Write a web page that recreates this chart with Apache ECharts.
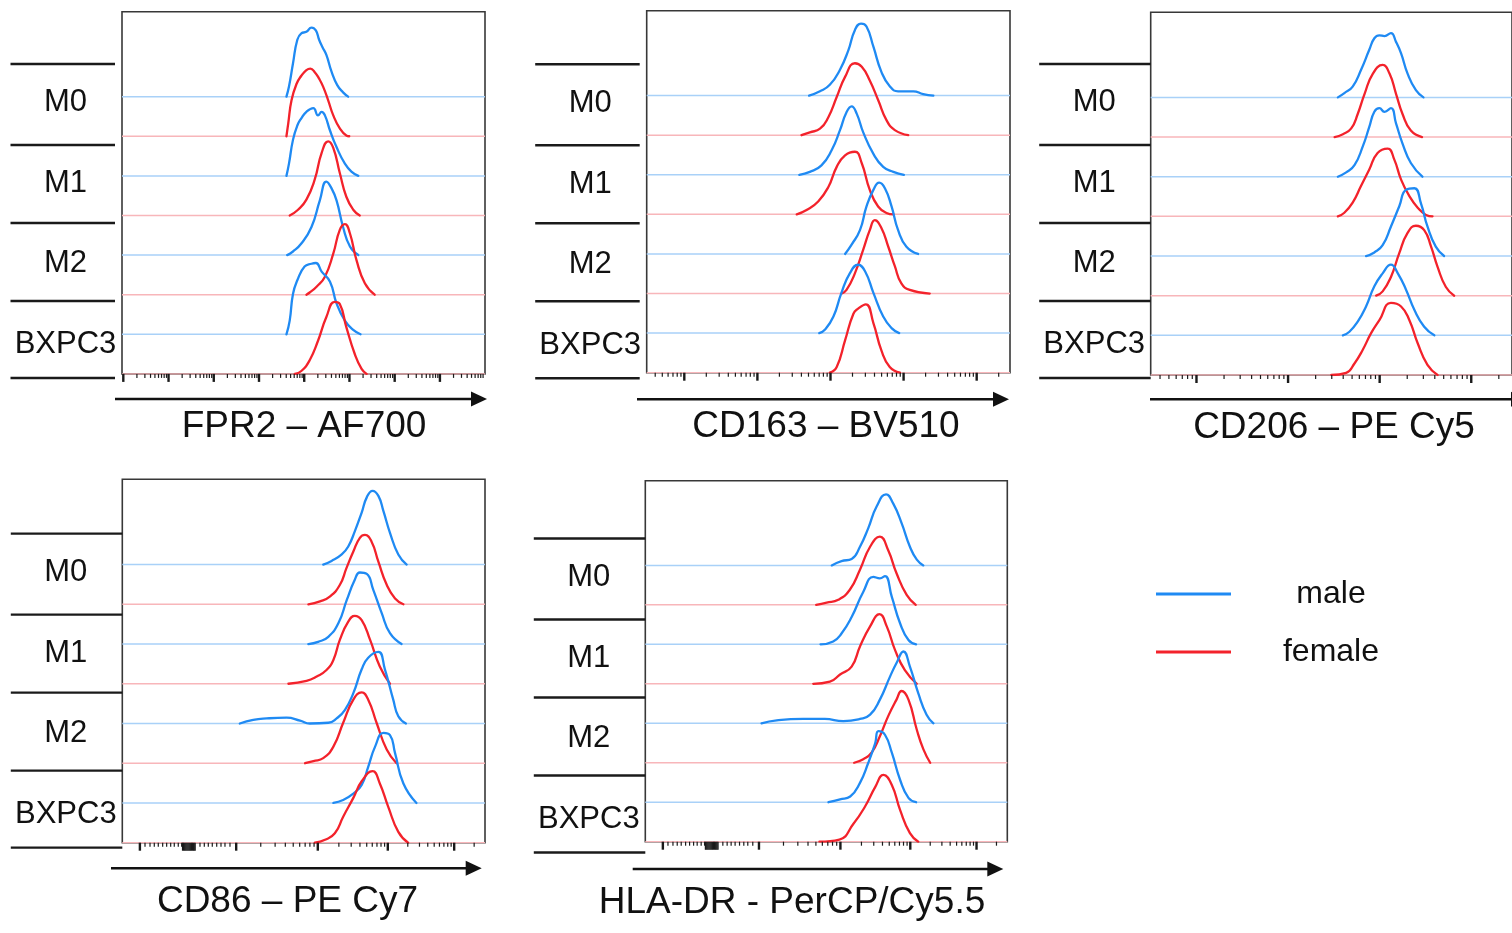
<!DOCTYPE html>
<html>
<head>
<meta charset="utf-8">
<script src="https://cdn.jsdelivr.net/npm/echarts@6/dist/echarts.min.js"></script>
<style>
  html, body { margin: 0; padding: 0; background: #ffffff; }
  #chart { width: 1512px; height: 933px; }
</style>
</head>
<body>
<div id="chart"></div>
<script>
// ---------------- data ----------------
const GROUPS = ['M0', 'M1', 'M2', 'BXPC3'];
const SEXES = ['male', 'female'];
const MARKERS = ['FPR2 – AF700', 'CD163 – BV510', 'CD206 – PE Cy5', 'CD86 – PE Cy7', 'HLA-DR - PerCP/Cy5.5'];

// each curve: [display channel (0-1000), % of mode]; order M0, M1, M2, BXPC3
const FPR2_MALE = [
  [[453,0],[460,14],[471,46],[483,79],[494,88],[508,90],[522,96],[534,92],[543,79],[552,69],[563,58],[577,35],[593,16],[609,6],[623,0]],
  [[453,0],[460,17],[471,50],[483,70],[494,80],[508,89],[527,94],[540,84],[550,89],[559,84],[573,63],[591,40],[614,17],[632,6],[651,0]],
  [[455,0],[471,5],[494,16],[522,39],[545,76],[563,102],[577,93],[591,76],[609,39],[628,12],[651,0]],
  [[453,0],[462,19],[471,56],[483,75],[503,94],[522,98],[534,99],[550,87],[573,73],[591,43],[614,19],[637,6],[657,0]]
];
const FPR2_FEMALE = [
  [[453,0],[458,18],[467,50],[481,73],[494,84],[508,92],[519,94],[531,89],[543,80],[554,69],[568,50],[582,29],[600,11],[618,1],[626,0]],
  [[462,0],[485,8],[508,22],[531,50],[550,87],[568,103],[582,94],[600,59],[618,26],[637,8],[655,0]],
  [[508,0],[517,3],[536,11],[559,25],[582,57],[600,90],[614,98],[628,85],[646,48],[669,16],[696,0]],
  [[476,0],[494,4],[517,19],[540,46],[563,79],[586,100],[600,97],[618,65],[641,28],[660,7],[674,0]]
];
const CD163_MALE = [
  [[447,0],[477,6],[504,15],[532,36],[555,63],[573,91],[590,100],[605,96],[624,68],[646,33],[669,13],[692,6],[734,6],[761,2],[789,0]],
  [[420,0],[449,4],[481,13],[509,34],[532,62],[550,87],[564,95],[578,85],[596,59],[624,29],[651,11],[679,4],[708,0]],
  [[546,0],[564,13],[587,33],[605,66],[624,89],[640,99],[656,91],[674,66],[692,33],[715,10],[747,0]],
  [[475,0],[491,5],[514,23],[536,56],[559,83],[582,95],[601,86],[624,56],[651,23],[674,7],[695,0]]
];
const CD163_FEMALE = [
  [[426,0],[449,4],[477,9],[500,25],[523,53],[546,81],[573,100],[592,95],[614,76],[637,49],[660,21],[683,7],[720,0]],
  [[413,0],[440,6],[472,18],[500,38],[523,66],[546,82],[573,87],[592,71],[614,34],[637,11],[660,2],[679,0]],
  [[536,0],[550,5],[573,28],[596,61],[614,88],[628,102],[646,91],[665,65],[683,38],[701,14],[724,5],[779,0]],
  [[504,0],[523,8],[546,45],[569,82],[582,89],[603,95],[624,69],[646,31],[669,8],[697,0]]
];
const CD206_MALE = [
  [[518,0],[536,6],[559,15],[582,38],[605,66],[619,82],[633,86],[647,85],[665,89],[679,77],[693,61],[711,33],[734,10],[755,0]],
  [[518,0],[541,6],[564,16],[587,42],[605,69],[619,90],[633,95],[647,90],[665,95],[679,74],[697,46],[720,19],[752,0]],
  [[596,0],[619,5],[642,15],[665,41],[688,69],[707,92],[730,94],[748,73],[766,41],[789,13],[812,0]],
  [[532,0],[550,5],[573,19],[596,40],[619,68],[642,86],[665,98],[684,86],[707,63],[730,35],[757,12],[785,0]]
];
const CD206_FEMALE = [
  [[509,0],[532,4],[555,12],[573,32],[592,60],[615,88],[642,100],[661,88],[679,60],[697,32],[720,9],[751,0]],
  [[518,0],[536,5],[559,19],[582,42],[605,65],[628,88],[656,94],[674,79],[693,51],[716,28],[739,12],[762,2],[780,0]],
  [[624,0],[642,6],[665,26],[688,59],[711,87],[734,97],[757,91],[776,68],[794,40],[817,12],[840,0]],
  [[500,0],[541,3],[564,16],[587,35],[610,58],[633,76],[665,100],[693,95],[716,76],[739,44],[766,14],[794,0]]
];
const CD86_MALE = [
  [[554,0],[577,5],[605,14],[623,25],[641,46],[660,72],[674,93],[690,102],[706,95],[720,74],[738,44],[761,14],[784,0]],
  [[513,0],[540,3],[568,10],[596,29],[619,61],[641,89],[655,99],[674,97],[692,75],[715,43],[738,15],[770,0]],
  [[324,0],[361,5],[398,7],[453,8],[490,4],[517,0],[568,1],[591,7],[614,19],[637,42],[660,75],[678,91],[706,99],[724,75],[747,33],[761,10],[782,0]],
  [[582,0],[609,4],[637,13],[660,25],[678,50],[697,78],[720,97],[738,94],[752,69],[775,27],[811,0]]
];
const CD86_FEMALE = [
  [[513,0],[545,4],[573,11],[600,27],[618,50],[637,73],[655,92],[669,96],[687,87],[706,59],[729,27],[752,8],[775,0]],
  [[458,0],[508,4],[536,10],[563,19],[582,33],[600,61],[623,86],[641,94],[660,88],[683,61],[710,24],[738,0]],
  [[504,0],[527,3],[554,7],[582,23],[609,56],[637,88],[660,98],[678,88],[701,56],[729,19],[756,0]],
  [[531,0],[559,4],[586,13],[609,36],[637,62],[660,85],[690,99],[710,82],[733,50],[761,15],[788,0]]
];
const HLADR_MALE = [
  [[515,0],[542,6],[570,9],[593,26],[616,52],[639,82],[665,99],[685,86],[708,59],[731,26],[750,8],[768,0]],
  [[484,0],[519,4],[542,15],[570,38],[602,73],[630,94],[648,92],[662,95],[681,66],[704,29],[727,6],[748,0]],
  [[321,0],[363,4],[436,6],[496,6],[547,3],[593,6],[621,12],[648,33],[676,65],[694,84],[713,100],[731,79],[754,42],[777,12],[796,0]],
  [[506,0],[538,4],[566,8],[593,27],[616,55],[635,82],[644,99],[662,94],[681,69],[704,31],[727,6],[748,0]]
];
const HLADR_FEMALE = [
  [[472,0],[501,3],[533,7],[565,21],[593,49],[621,81],[648,95],[671,76],[694,44],[722,14],[747,0]],
  [[464,0],[510,3],[538,13],[570,24],[593,52],[621,80],[647,97],[667,80],[690,47],[717,19],[750,0]],
  [[577,0],[602,5],[625,14],[648,37],[671,65],[694,88],[708,100],[727,88],[750,46],[768,19],[787,0]],
  [[481,0],[536,3],[575,25],[607,49],[635,76],[658,93],[681,79],[704,44],[731,12],[754,0]]
];

// axis ticks (display channel units)
const LOG_MAJORS_FPR2 = [3.6, 128.2, 252.8, 377.4, 502, 626.6, 751.2, 875.8];
const LOG_MAJORS_CD163 = [103.5, 304.7, 505.9, 707.1, 908.3];
const LOG_MAJORS_CD206 = [126.7, 380.2, 633.7, 887.2];
const DECADE_WIDTHS = [124.6, 201.2, 253.5];
const BIEX_MAJORS = [48.5, 314, 539, 732, 915];
const BIEX_LINEAR_MINORS = [62.6, 76.4, 88.2, 99.2, 111.3, 122.3, 133.4, 143.3, 154.3, 163.7, 214.2, 226.1, 237.1, 248.1, 260.3, 272.1, 283.1, 296.9];
const BIEX_ZERO_CLUSTER = [166, 168.5, 171, 173.5, 176, 178.5, 181, 183.5, 186, 188.5, 191, 193.5, 196, 198.5, 201];
const BIEX_LAST_DECADE = 183;

// ---------------- layout ----------------
const CH_MAX = 1000, ROW = 55, Y_MAX = 503;
const BOX = [ // left, top, width, height of each plot frame
  [122, 11.7, 363, 362.2],
  [646.7, 10.7, 363.3, 362],
  [1150.7, 12.3, 363, 362.7],
  [122.3, 479.3, 362.7, 363.4],
  [645.3, 480.7, 362, 361]
];
const SEP_BASE = [53, 134, 212, 290, 367];
const LABEL_BASE = [91.8, 172.8, 252.8, 333.8];
const SEP_DY = [-0.7, 0.5, -1.3, 1.3, 4.8];
const SEP_GAP = [7, 7, 0, 0, 0];
const TITLE_POS = [[304, 426.5], [826, 426.5], [1334, 428], [287.5, 901.5], [792, 903]];
const ARROW = [[115, 487, 399], [637, 1009, 399.3], [1150, 1527, 399.3], [111, 481.7, 868.3], [632.7, 1003.3, 869]];

const FONT = '"Liberation Sans", Arial, Helvetica, sans-serif';
const COL = { male: '#1F8AF3', female: '#F3222B' };
const PALE = { male: '#A9D1F8', female: '#F8B6BA' };

const PANEL_DATA = [
  [FPR2_MALE, FPR2_FEMALE],
  [CD163_MALE, CD163_FEMALE],
  [CD206_MALE, CD206_FEMALE],
  [CD86_MALE, CD86_FEMALE],
  [HLADR_MALE, HLADR_FEMALE]
];

function logTicks(majors, D) {
  const out = [];
  majors.forEach(m => out.push([m, 1]));
  const starts = [majors[0] - D].concat(majors);
  starts.forEach(m => {
    for (let k = 2; k <= 9; k++) {
      const v = m + D * Math.log10(k);
      if (v > 0 && v < CH_MAX) out.push([v, 0]);
    }
  });
  return out;
}
function biexTicks() {
  const out = [];
  BIEX_MAJORS.forEach(m => out.push([m, 1]));
  BIEX_LINEAR_MINORS.forEach(v => out.push([v, 0]));
  BIEX_ZERO_CLUSTER.forEach(v => out.push([v, 2]));
  for (let i = 1; i < BIEX_MAJORS.length; i++) {
    const a = BIEX_MAJORS[i];
    const D = i < BIEX_MAJORS.length - 1 ? BIEX_MAJORS[i + 1] - a : BIEX_LAST_DECADE;
    for (let k = 2; k <= 9; k++) {
      const v = a + D * Math.log10(k);
      if (v < CH_MAX) out.push([v, 0]);
    }
  }
  return out;
}
const PANEL_TICKS = [
  logTicks(LOG_MAJORS_FPR2, DECADE_WIDTHS[0]),
  logTicks(LOG_MAJORS_CD163, DECADE_WIDTHS[1]),
  logTicks(LOG_MAJORS_CD206, DECADE_WIDTHS[2]),
  biexTicks(),
  biexTicks()
];

const grids = [], xAxes = [], yAxes = [], series = [], graphics = [];

BOX.forEach((b, p) => {
  grids.push({ left: b[0], top: b[1], width: b[2], height: b[3], show: true,
    borderColor: '#383838', borderWidth: 1.6, backgroundColor: 'transparent', containLabel: false });
  xAxes.push({ gridIndex: p, type: 'value', min: 0, max: CH_MAX,
    axisLine: { show: false }, axisTick: { show: false }, axisLabel: { show: false }, splitLine: { show: false } });
  yAxes.push({ gridIndex: p, type: 'value', min: 0, max: Y_MAX,
    axisLine: { show: false }, axisTick: { show: false }, axisLabel: { show: false }, splitLine: { show: false } });

  // baselines first
  GROUPS.forEach((g, gi) => {
    SEXES.forEach((s, si) => {
      const k = gi * 2 + si;
      const off = (7 - k) * ROW;
      series.push({
        type: 'line', name: g + ' ' + s + ' baseline', xAxisIndex: p, yAxisIndex: p,
        data: [[0, off], [CH_MAX, off]], symbol: 'none', silent: true, z: 2,
        lineStyle: { color: PALE[s], width: 1.5 }, itemStyle: { color: PALE[s] }
      });
    });
  });
  GROUPS.forEach((g, gi) => {
    SEXES.forEach((s, si) => {
      const k = gi * 2 + si;
      const off = (7 - k) * ROW;
      const curve = PANEL_DATA[p][si][gi];
      series.push({
        type: 'line', name: s, xAxisIndex: p, yAxisIndex: p,
        data: curve.map(pt => [pt[0], off + pt[1]]), symbol: 'none', silent: true, z: 3,
        smooth: 0.5,
        lineStyle: { color: COL[s], width: 2.3, join: 'round', cap: 'round' }, itemStyle: { color: COL[s] }
      });
    });
  });
  // ticks under the frame
  series.push({
    type: 'custom', name: 'ticks' + p, xAxisIndex: p, yAxisIndex: p, silent: true, clip: false, z: 4,
    data: PANEL_TICKS[p],
    renderItem: function (params, api) {
      const pt = api.coord([api.value(0), 0]);
      const kind = api.value(1);
      const len = kind === 0 ? 4 : 8;
      const w = kind === 1 ? 2.4 : 1.2;
      return { type: 'line', shape: { x1: pt[0], y1: pt[1], x2: pt[0], y2: pt[1] + len },
        style: { stroke: '#1a1a1a', lineWidth: w } };
    }
  });

  // row separators and labels
  const x1 = b[0] - 111.5, x2 = b[0] - SEP_GAP[p];
  const seps = SEP_BASE.map(v => b[1] + v + SEP_DY[p]);
  seps.forEach(y => {
    graphics.push({ type: 'line', silent: true, shape: { x1: x1, y1: y, x2: x2, y2: y },
      style: { stroke: '#1a1a1a', lineWidth: 2.4 } });
  });
  GROUPS.forEach((g, gi) => {
    graphics.push({ type: 'text', silent: true, x: x1 + 55, y: b[1] + LABEL_BASE[gi] + SEP_DY[p],
      style: { text: g, font: '31px ' + FONT, fill: '#111', align: 'center', verticalAlign: 'middle' } });
  });
  // title
  graphics.push({ type: 'text', silent: true, x: TITLE_POS[p][0], y: TITLE_POS[p][1],
    style: { text: MARKERS[p], font: '37px ' + FONT, fill: '#111', align: 'center', verticalAlign: 'middle' } });
  // arrow
  const a = ARROW[p];
  graphics.push({ type: 'line', silent: true, shape: { x1: a[0], y1: a[2], x2: a[1] - 12, y2: a[2] },
    style: { stroke: '#111', lineWidth: 2.5 } });
  graphics.push({ type: 'polygon', silent: true,
    shape: { points: [[a[1], a[2]], [a[1] - 16, a[2] - 7.5], [a[1] - 16, a[2] + 7.5]] },
    style: { fill: '#111' } });
});

const chart = echarts.init(document.getElementById('chart'), null, { renderer: 'canvas' });
chart.setOption({
  backgroundColor: '#ffffff',
  animation: false,
  grid: grids,
  xAxis: xAxes,
  yAxis: yAxes,
  series: series,
  graphic: graphics,
  legend: {
    data: SEXES, orient: 'vertical', left: 1156, top: 578, padding: 0,
    itemWidth: 75, itemHeight: 3, itemGap: 26, icon: 'rect', selectedMode: false,
    formatter: name => '{t|' + name + '}',
    textStyle: { rich: { t: { width: 190, align: 'center', fontSize: 32, lineHeight: 36, fontFamily: FONT, color: '#111' } } }
  }
});
</script>
</body>
</html>
